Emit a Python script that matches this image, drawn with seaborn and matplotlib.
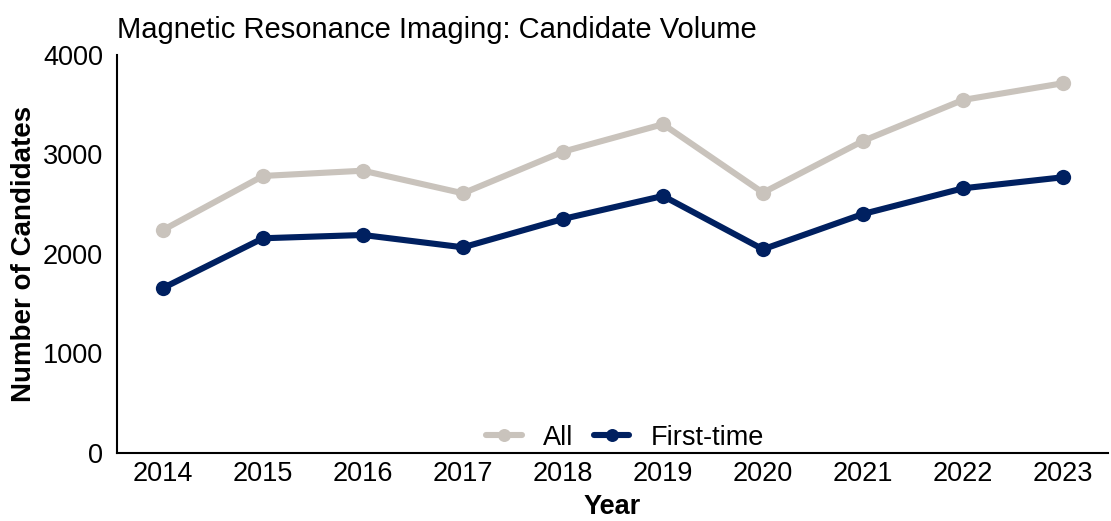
import pandas as pd
import matplotlib.pyplot as plt
import seaborn as sns

# Candidate volume by year
years = ["2014", "2015", "2016", "2017", "2018", "2019", "2020", "2021", "2022", "2023"]
all_candidates = [2241, 2784, 2837, 2610, 3028, 3304, 2616, 3136, 3548, 3716]
first_time = [1658, 2158, 2191, 2067, 2352, 2583, 2047, 2402, 2660, 2771]

df = pd.DataFrame({
    "Year": years * 2,
    "Candidates": all_candidates + first_time,
    "Group": ["All"] * len(years) + ["First-time"] * len(years),
})

sns.set_style("white")
plt.rcParams['font.family'] = ['Liberation Sans', 'DejaVu Sans']
plt.rcParams['text.color'] = 'black'
plt.rcParams['axes.labelcolor'] = 'black'
plt.rcParams['xtick.color'] = 'black'
plt.rcParams['ytick.color'] = 'black'

fig = plt.figure(figsize=(11.11, 5.21), dpi=100)
ax = fig.add_axes([0.1053, 0.1305, 0.892, 0.764])

sns.lineplot(data=df, x="Year", y="Candidates", hue="Group",
             palette={"All": "#C9C3BC", "First-time": "#002060"},
             marker="o", markersize=11, markeredgewidth=0,
             linewidth=4.4, ax=ax)

ax.set_ylim(0, 4000)
ax.set_xlim(-0.46, 9.45)
ax.set_yticks([0, 1000, 2000, 3000, 4000])
ax.tick_params(axis="both", labelsize=19.5, length=0)
ax.tick_params(axis="y", pad=10)
ax.tick_params(axis="x", pad=6)
ax.set_xlabel("Year", fontsize=19.5, fontweight="bold", labelpad=5)
ax.set_ylabel("Number of Candidates", fontsize=20, fontweight="bold", labelpad=4)
ax.set_title("Magnetic Resonance Imaging: Candidate Volume", fontsize=21, loc="left", pad=12)

for side in ["top", "right"]:
    ax.spines[side].set_visible(False)
for side in ["left", "bottom"]:
    ax.spines[side].set_color("black")
    ax.spines[side].set_linewidth(1.5)

leg = ax.legend(title=None, loc="lower center", bbox_to_anchor=(0.513, -0.055), ncol=2,
                frameon=False, fontsize=19.5, handlelength=1.3, handletextpad=0.8,
                columnspacing=0.75, markerscale=0.85)

plt.savefig("out.png", dpi=100)
